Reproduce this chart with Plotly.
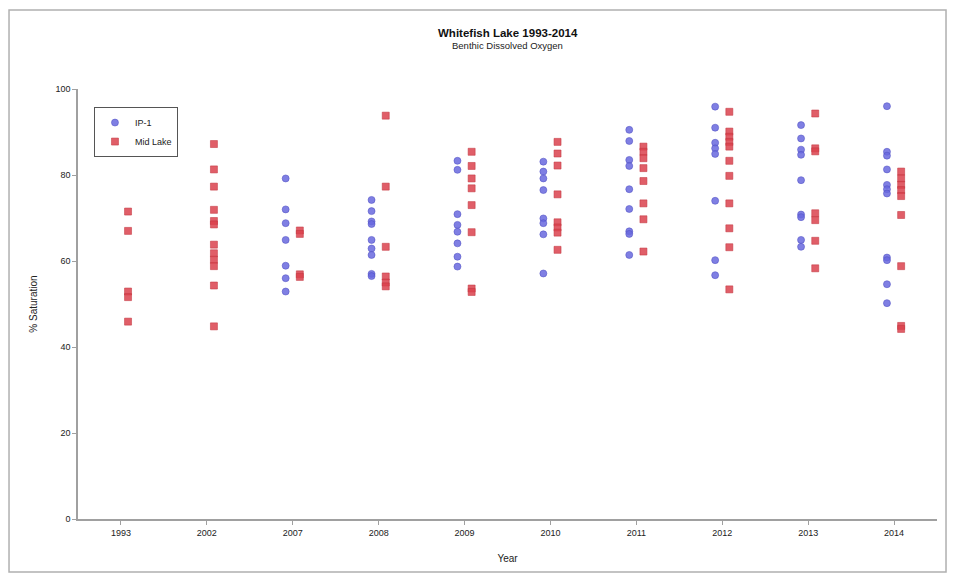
import plotly.graph_objects as go

# Sampling years (category axis)
years = ["1993", "2002", "2007", "2008", "2009", "2010", "2011", "2012", "2013", "2014"]

# Benthic dissolved oxygen, % saturation, station IP-1
ip1_sat = {
    "1993": [],
    "2002": [],
    "2007": [79.2, 72.0, 68.8, 64.9, 58.9, 56.0, 52.9],
    "2008": [74.2, 71.6, 69.2, 68.6, 64.9, 62.9, 61.4, 57.0, 56.5],
    "2009": [83.3, 81.2, 70.9, 68.4, 66.8, 64.1, 61.0, 58.7],
    "2010": [83.1, 80.8, 79.2, 76.5, 69.9, 68.8, 66.2, 57.1],
    "2011": [90.5, 87.9, 83.5, 82.1, 76.7, 72.1, 66.9, 66.3, 61.4],
    "2012": [95.9, 91.0, 87.5, 86.2, 84.9, 74.0, 60.2, 56.7],
    "2013": [91.6, 88.5, 85.9, 84.7, 78.8, 70.8, 70.2, 64.9, 63.3],
    "2014": [96.0, 85.4, 84.5, 81.3, 77.7, 76.7, 75.7, 60.8, 60.2, 54.6, 50.2],
}

# Benthic dissolved oxygen, % saturation, Mid Lake station
midlake_sat = {
    "1993": [71.5, 67.0, 52.9, 51.6, 45.9],
    "2002": [87.2, 81.3, 77.3, 71.9, 69.3, 68.5, 63.8, 61.8, 60.3, 58.8, 54.3, 44.8],
    "2007": [67.1, 66.3, 56.9, 56.3],
    "2008": [93.8, 77.3, 63.3, 56.4, 55.0, 54.1],
    "2009": [85.4, 82.1, 79.2, 76.9, 73.0, 66.7, 53.6, 52.8],
    "2010": [87.7, 85.0, 82.2, 75.5, 69.0, 67.8, 66.6, 62.6],
    "2011": [86.6, 85.4, 83.9, 81.6, 78.6, 73.4, 69.7, 62.2],
    "2012": [94.7, 90.1, 88.9, 87.7, 86.6, 83.3, 79.8, 73.4, 67.6, 63.2, 53.4],
    "2013": [94.3, 86.2, 85.5, 71.1, 69.5, 64.7, 58.3],
    "2014": [80.8, 79.2, 77.7, 76.5, 75.1, 70.7, 58.8, 44.9, 44.2],
}

y_ticks = [0, 20, 40, 60, 80, 100]


def flatten(series):
    xs, ys = [], []
    for yr in years:
        for v in series[yr]:
            xs.append(yr)
            ys.append(v)
    return xs, ys


ip1_x, ip1_y = flatten(ip1_sat)
mid_x, mid_y = flatten(midlake_sat)

FONT = "Liberation Sans, Arial, sans-serif"
AXIS_GRAY = "#a0a0a0"
TEXT = "#222222"

fig = go.Figure()
fig.add_trace(go.Scatter(
    x=ip1_x, y=ip1_y, mode="markers", name="IP-1", offsetgroup="ip1",
    marker=dict(symbol="circle", size=7, color="rgba(104,104,222,0.85)",
                line=dict(width=0.6, color="rgba(80,80,196,0.9)")),
))
fig.add_trace(go.Scatter(
    x=mid_x, y=mid_y, mode="markers", name="Mid Lake", offsetgroup="mid",
    marker=dict(symbol="square", size=7, color="rgba(218,66,78,0.85)",
                line=dict(width=0.6, color="rgba(196,54,64,0.9)")),
))

fig.update_layout(
    width=954, height=582,
    margin=dict(l=78, r=17, t=89, b=63),
    paper_bgcolor="white", plot_bgcolor="white",
    scattermode="group", scattergap=0.67,
    font=dict(family=FONT, size=9, color=TEXT),
    showlegend=True,
    legend=dict(
        x=0.0186, y=0.958, xanchor="left", yanchor="top",
        bordercolor="#555555", borderwidth=1, bgcolor="white",
        font=dict(family=FONT, size=9, color=TEXT),
        itemwidth=30,
    ),
    xaxis=dict(
        type="category", categoryorder="array", categoryarray=years,
        range=[-0.5, 9.5],
        showgrid=False, zeroline=False,
        showline=True, linecolor=AXIS_GRAY, linewidth=1.5,
        ticks="outside", ticklen=4, tickcolor=AXIS_GRAY,
        tickfont=dict(family=FONT, size=9, color=TEXT),
        title=dict(text="Year", font=dict(family=FONT, size=10, color=TEXT), standoff=18),
    ),
    yaxis=dict(
        range=[0, 100], tickvals=y_ticks,
        showgrid=False, zeroline=False,
        showline=True, linecolor=AXIS_GRAY, linewidth=1.5,
        ticks="outside", ticklen=4, tickcolor=AXIS_GRAY,
        tickfont=dict(family=FONT, size=9, color=TEXT),
        title=dict(text="% Saturation", font=dict(family=FONT, size=10, color=TEXT), standoff=16),
    ),
    annotations=[
        dict(text="<b>Whitefish Lake 1993-2014</b>", x=0.5, y=1.130, xref="paper", yref="paper",
             showarrow=False, font=dict(family=FONT, size=11.5, color="#111111"),
             xanchor="center", yanchor="middle"),
        dict(text="Benthic Dissolved Oxygen", x=0.5, y=1.101, xref="paper", yref="paper",
             showarrow=False, font=dict(family=FONT, size=9.5, color=TEXT),
             xanchor="center", yanchor="middle"),
    ],
    shapes=[
        dict(type="rect", xref="paper", yref="paper",
             x0=-0.0803, x1=1.0105, y0=-0.123, y1=1.1837,
             line=dict(color="#b0b0b0", width=1.5), fillcolor="rgba(0,0,0,0)", layer="below"),
    ],
)

fig.write_html("out.html")
